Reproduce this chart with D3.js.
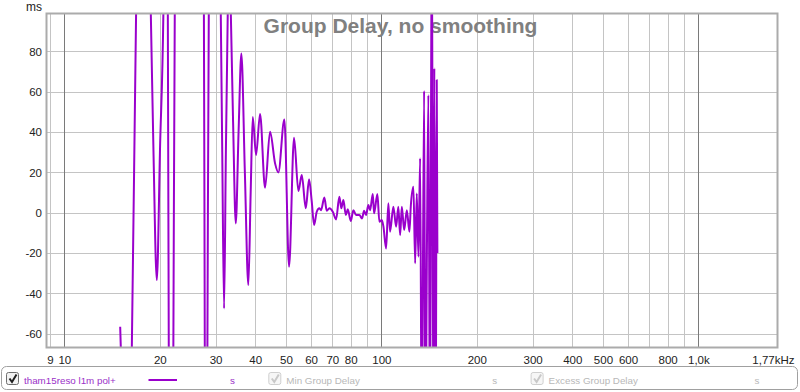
<!DOCTYPE html>
<html><head><meta charset="utf-8">
<script src="https://cdn.jsdelivr.net/npm/d3@7"></script>
<style>
body{margin:0;background:#fff;}
svg{display:block;font-family:"Liberation Sans",Arial,sans-serif;}
</style>
</head><body><svg id="c" width="800" height="392"></svg>
<script>
// ---- data ----
const freqHz = [15.0,15.1,15.7,16.32,16.84,17.8,18.73,19.09,19.57,20.04,20.53,20.9,21.2,21.35,21.8,22.07,22.3,25.0,27.55,27.73,28.0,28.26,28.55,30.0,31.14,31.48,31.9,32.32,32.77,33.13,33.49,34.06,34.73,35.44,36.17,37.1,38.05,38.7,39.29,40.24,41.43,42.96,44.55,46.2,47.32,49.43,51.14,53.03,54.72,56.09,57.74,59.14,60.31,61.33,62.54,63.73,64.53,66.09,67.25,68.55,70.25,71.95,73.7,74.78,75.88,77.22,78.34,80.07,81.59,83.2,85.22,86.9,88.18,89.47,90.99,92.13,93.95,94.84,97.14,98.56,100.3,101.5,103.5,105.2,106.5,109.1,111.3,113.1,114.6,116.0,118.0,120.3,122.6,123.8,126.2,127.8,129.3,130.9,132.5,134.1,136.4,137.7,139.1,140.7,142.4,144.2,145.9,146.9,148.4,149.5,150.2];
const delayMs = [-56.6,-72,-160,-68,100,250,100,32.7,-33.4,32.7,100,220,100,-68,-200,-68,100,300,100,-68,-200,-68,100,250,100,30,-47.5,30,100,140,100,45,-5.3,40,79,20,-35.9,10,47.5,28.6,49,12.4,40.2,24.5,20,46.3,-26.8,37.2,10.8,18.7,2.2,16.6,5.5,-6.1,0.5,2.2,1.3,7.6,1.0,2.2,0.5,-3.3,7.9,2.2,6.3,-1.1,1.7,-4.1,1.3,-1.1,-1.1,-2.8,1.0,-1.1,3.8,1.3,9.3,-0.3,9.3,-4.5,-3.6,-6.9,-17.7,4.7,-9.4,3.0,-6.9,3.0,-11.1,3.0,-8.6,1.3,-9.4,3.0,12.9,-25.1,9.6,-21.8,27,-120,60.5,-120,-25,58.4,-120,160,-120,71.7,-120,65.9,-20];
const yTicks = [-60,-40,-20,0,20,40,60,80];
const xGridMinor = [9,20,30,40,50,60,70,80,90,200,300,400,500,600,700,800,900];
const xGridMajor = [10,100,1000];
const xTickValues = [9,10,20,30,40,50,60,70,80,100,200,300,400,500,600,800,1000,1770];
const xTickLabels = ["9","10","20","30","40","50","60","70","80","100","200","300","400","500","600","800","1,0k","1,77kHz"];
const legendNames = ["tham15reso l1m pol+","Min Group Delay","Excess Group Delay"];
const legendUnits = ["s","s","s"];
const legendActive = [true,false,false];
const titleText = "Group Delay, no smoothing";
const yUnit = "ms";

// ---- layout ----
const L = 47, R = 777, T = 14, B = 347;
const svg = d3.select("#c");
const x = d3.scaleLog().domain([8.815, 1770]).range([L, R]);
const y = d3.scaleLinear().domain([-66.6, 98.6]).range([B, T]);
const purple = "#9a00cc";

// grid
const g = svg.append("g");
g.selectAll(".hg").data(yTicks).join("line")
  .attr("x1", L).attr("x2", R).attr("y1", d => Math.round(y(d)) + 0.5).attr("y2", d => Math.round(y(d)) + 0.5)
  .attr("stroke", "#c4c4c4").attr("stroke-width", 1);
g.selectAll(".vg").data(xGridMinor).join("line")
  .attr("y1", T).attr("y2", B).attr("x1", d => Math.round(x(d)) + 0.5).attr("x2", d => Math.round(x(d)) + 0.5)
  .attr("stroke", "#c4c4c4").attr("stroke-width", 1);
g.selectAll(".vm").data(xGridMajor).join("line")
  .attr("y1", T).attr("y2", B).attr("x1", d => Math.round(x(d)) + 0.5).attr("x2", d => Math.round(x(d)) + 0.5)
  .attr("stroke", "#7a7a7a").attr("stroke-width", 1);

// title
svg.append("text").attr("x", 400.5).attr("y", 33).attr("text-anchor", "middle")
  .attr("font-size", 21).attr("font-weight", "bold").attr("fill", "#808080").text(titleText);

// curve
svg.append("clipPath").attr("id", "clip").append("rect")
  .attr("x", L).attr("y", T).attr("width", R - L).attr("height", B - T);
const pts = freqHz.map((f, i) => [f, delayMs[i]]);
svg.append("path").datum(pts)
  .attr("clip-path", "url(#clip)")
  .attr("d", d3.line().x(d => x(d[0])).y(d => y(d[1])).curve(d3.curveMonotoneX))
  .attr("fill", "none").attr("stroke", purple).attr("stroke-width", 2).attr("stroke-linejoin", "round");

// frame
svg.append("rect").attr("x", L - 0.5).attr("y", T - 0.5).attr("width", R - L + 1).attr("height", B - T + 1)
  .attr("fill", "none").attr("stroke", "#ababab").attr("stroke-width", 2);

// axes
const xa = svg.append("g").attr("transform", `translate(0,${B})`)
  .call(d3.axisBottom(x).tickValues(xTickValues).tickFormat((d, i) => xTickLabels[i]).tickSize(0).tickPadding(9));
xa.select(".domain").remove();
xa.selectAll("text").attr("font-size", 11.5).attr("fill", "#222").attr("font-family", "Liberation Sans, Arial, sans-serif");
xa.selectAll(".tick").filter(d => d === 1770).select("text").attr("text-anchor", "end").attr("dx", 17);

const ya = svg.append("g").attr("transform", `translate(${L},0)`)
  .call(d3.axisLeft(y).tickValues(yTicks).tickFormat(d => d).tickSize(0).tickPadding(5));
ya.select(".domain").remove();
ya.selectAll("text").attr("font-size", 11.5).attr("fill", "#222").attr("font-family", "Liberation Sans, Arial, sans-serif");

svg.append("text").attr("x", 42).attr("y", 11).attr("text-anchor", "end")
  .attr("font-size", 12).attr("fill", "#222").text(yUnit);

// legend
svg.append("rect").attr("x", 1.5).attr("y", 366.5).attr("width", 796).attr("height", 23).attr("rx", 5)
  .attr("fill", "#fff").attr("stroke", "#a0a0a0");
const lg = svg.append("g").selectAll("g").data(legendNames).join("g")
  .attr("transform", (d, i) => `translate(${6 + i * 262.3},0)`);
lg.append("rect").attr("x", 0.5).attr("y", 372.5).attr("width", 12).attr("height", 12).attr("rx", 2)
  .attr("fill", (d, i) => legendActive[i] ? "#f2f2f2" : "#f6f6f6")
  .attr("stroke", (d, i) => legendActive[i] ? "#6e6e6e" : "#cfcfcf");
lg.append("path").attr("d", "M3.5,378.5 L6,382 L10.5,374.5")
  .attr("fill", "none").attr("stroke", (d, i) => legendActive[i] ? "#202020" : "#c8c8c8").attr("stroke-width", 2);
lg.append("text").attr("x", 18).attr("y", 383.5).attr("font-size", 9.8)
  .attr("fill", (d, i) => legendActive[i] ? "#9a30c8" : "#b8b8b8").text(d => d);
lg.filter((d, i) => legendActive[i]).append("line")
  .attr("x1", 142.5).attr("x2", 171).attr("y1", 380).attr("y2", 380).attr("stroke", purple).attr("stroke-width", 2);
lg.append("text").attr("x", 224).attr("y", 383.5).attr("font-size", 9.8)
  .attr("fill", (d, i) => legendActive[i] ? "#9a30c8" : "#b8b8b8").text((d, i) => legendUnits[i]);
</script>
</body></html>
